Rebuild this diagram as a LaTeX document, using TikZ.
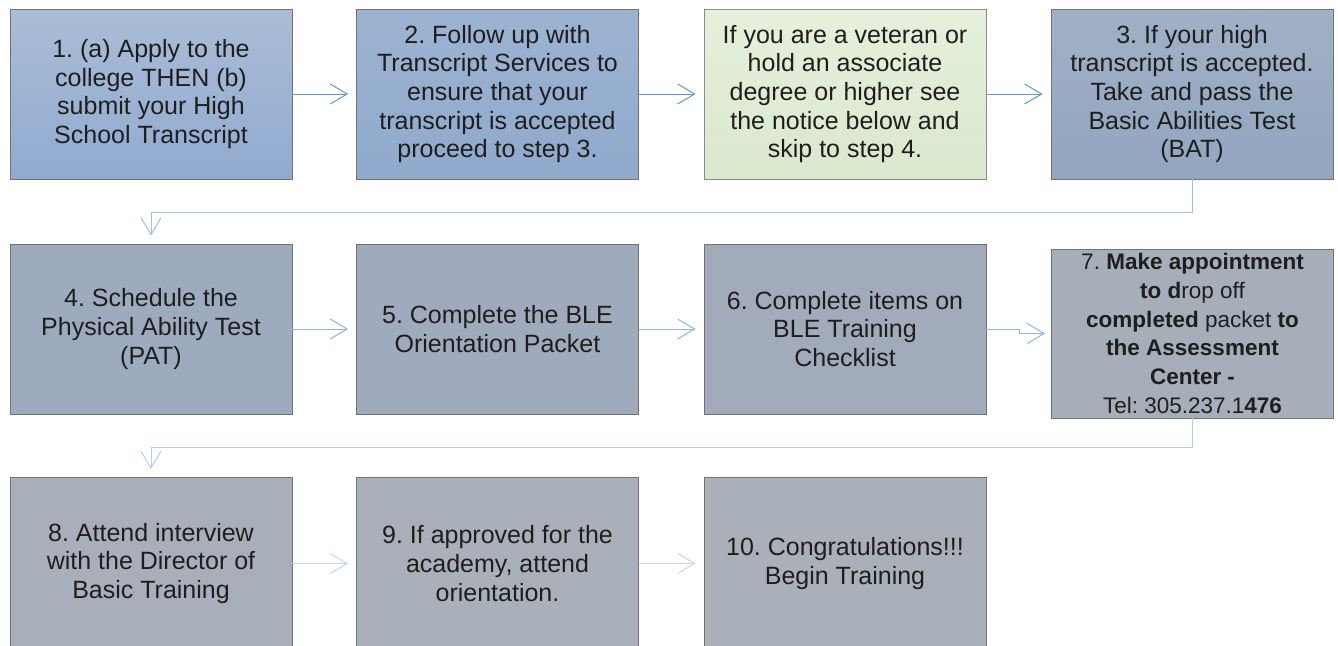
\documentclass[tikz,border=0pt]{standalone}
\usepackage{fontspec}
\setmainfont{Liberation Sans}
\usetikzlibrary{arrows.meta,calc}
\definecolor{txt}{HTML}{1E1E1E}
\definecolor{bA1}{HTML}{ABBDD6}
\definecolor{bA2}{HTML}{90AAD0}
\definecolor{bB1}{HTML}{9DB3D2}
\definecolor{bB2}{HTML}{90A9CC}
\definecolor{gr1}{HTML}{E6F0DD}
\definecolor{gr2}{HTML}{DAE8CD}
\definecolor{bC1}{HTML}{A0B0C6}
\definecolor{bC2}{HTML}{93A6C0}
\definecolor{r2a}{HTML}{9EABBF}
\definecolor{r2b}{HTML}{9FAABD}
\definecolor{r2c}{HTML}{A2ABBB}
\definecolor{r2d}{HTML}{A6AEBA}
\definecolor{r3a}{HTML}{A8AFBA}
\definecolor{r3b}{HTML}{A9B0BA}
\definecolor{r3c}{HTML}{AAB0B9}
\definecolor{ar1}{HTML}{5B9BD5}
\definecolor{ar2}{HTML}{8DB3E2}
\definecolor{ar3}{HTML}{C3D6EE}
\definecolor{ac1}{HTML}{9DC0E6}
\definecolor{ac2}{HTML}{B3CDEA}
\tikzset{
  box/.style={draw=black!55, line width=0.8pt, minimum width=282pt, minimum height=170pt,
    inner sep=4pt, align=center, text=txt, font=\fontsize{25}{28.7}\selectfont\frenchspacing},
  conn/.style={line width=1pt, -{Straight Barb[length=17pt,width=20pt,line width=1pt]}, shorten >=8pt},
  c1/.style={conn, draw=ar1},
  c2/.style={conn, draw=ar2},
  c3/.style={conn, draw=ar3},
}
\begin{document}
\begin{tikzpicture}[x=1pt,y=-1pt]
\useasboundingbox (0,0) rectangle (1338,645);
% row 1
\node[box, top color=bA1, bottom color=bA2] (s1) at (151,94)
  {1. (a) Apply to the\\college THEN (b)\\submit your High\\School Transcript};
\node[box, top color=bB1, bottom color=bB2] (s2) at (497.5,94)
  {2. Follow up with\\Transcript Services to\\ensure that your\\transcript is accepted\\proceed to step 3.};
\node[box, draw=black!45, top color=gr1, bottom color=gr2] (vet) at (845,94)
  {If you are a veteran or\\hold an associate\\degree or higher see\\the notice below and\\skip to step 4.};
\node[box, top color=bC1, bottom color=bC2] (s3) at (1192,94)
  {3. If your high\\transcript is accepted.\\Take and pass the\\Basic Abilities Test\\(BAT)};
% row 2
\node[box, fill=r2a] (s4) at (151,329)
  {4. Schedule the\\Physical Ability Test\\(PAT)};
\node[box, fill=r2b] (s5) at (497.5,329)
  {5. Complete the BLE\\Orientation Packet};
\node[box, fill=r2c] (s6) at (845,329)
  {6. Complete items on\\BLE Training\\Checklist};
\node[box, fill=r2d, minimum height=169pt, inner sep=0pt, font=\fontsize{22.5}{28.8}\selectfont\frenchspacing] (s7) at (1192.5,333.5)
  {7. \textbf{Make appointment}\\\textbf{to d}rop off\\\textbf{completed} packet \textbf{to}\\\textbf{the Assessment}\\\textbf{Center -}\\Tel: 305.237.1\textbf{476}};
% row 3
\node[box, fill=r3a, minimum height=172pt] (s8) at (151,563.5)
  {8. Attend interview\\with the Director of\\Basic Training};
\node[box, fill=r3b, minimum height=172pt] (s9) at (497.5,563.5)
  {9. If approved for the\\academy, attend\\orientation.};
\node[box, fill=r3c, minimum height=172pt] (s10) at (845,563.5)
  {10. Congratulations!!!\\Begin Training};
% coordinates
\coordinate (t1) at (151,212);
\coordinate (t2) at (151,447);
\coordinate (e1) at (1019,329);
% connectors row 1
\draw[c1] (s1.east) -- (s2.west);
\draw[c1] (s2.east) -- (vet.west);
\draw[c1] (vet.east) -- (s3.west);
\draw[c2, draw=ac1] (s3.south) |- (t1) -- (s4.north);
% row 2
\draw[c2] (s4.east) -- (s5.west);
\draw[c2] (s5.east) -- (s6.west);
\draw[c2, shorten >=6pt] (s6.east) -- (e1) |- (s7.west);
\draw[c3, draw=ac2] (s7.south) |- (t2) -- (s8.north);
% row 3
\draw[c3] (s8.east) -- (s9.west);
\draw[c3] (s9.east) -- (s10.west);
\end{tikzpicture}
\end{document}
